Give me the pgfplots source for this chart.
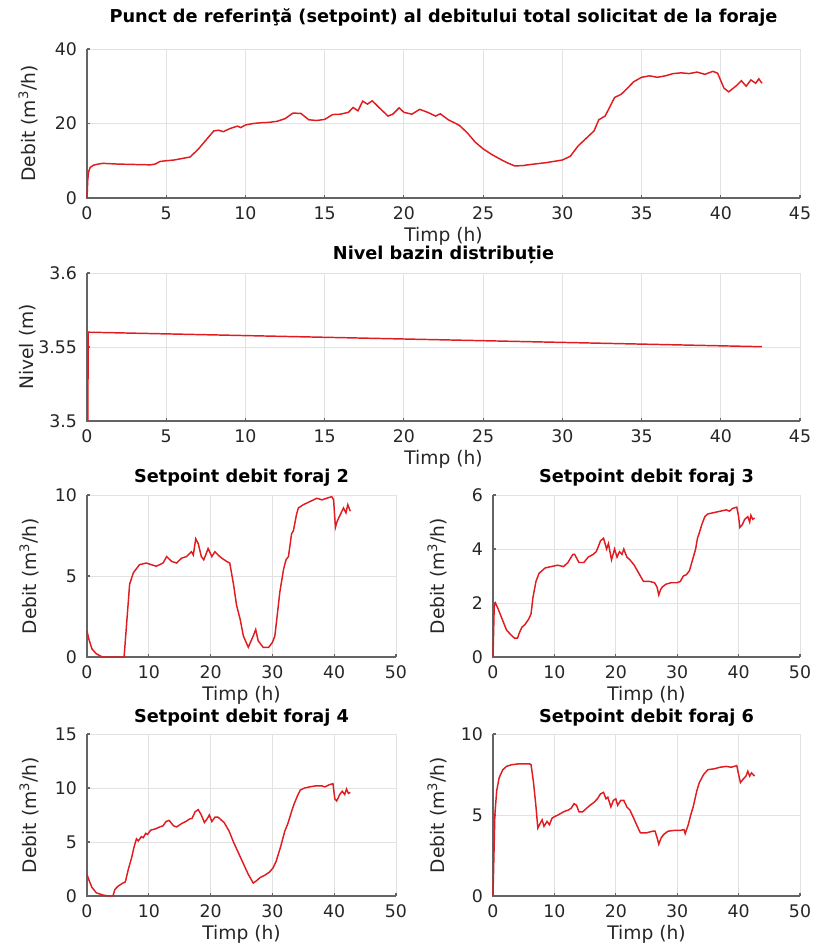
\documentclass[border=0pt]{standalone}
\usepackage{fontspec}
\setmainfont{DejaVu Sans}
\usepackage{pgfplots}
\pgfplotsset{compat=1.18}
\definecolor{lc}{RGB}{225,28,32}
\definecolor{gc}{RGB}{226,226,226}
\definecolor{ac}{RGB}{100,100,100}
\pgfplotsset{
 base/.style={
  scale only axis, anchor=south west,
  axis x line*=bottom, axis y line*=left,
  xtick pos=bottom, ytick pos=left,
  axis line style={-, ac, line width=1.6pt},
  grid=major, major grid style={gc, line width=0.7pt},
  tick style={ac, line width=0.8pt}, tick align=inside, major tick length=2.5pt,
  enlargelimits=false, clip=false,
  /pgf/number format/assume math mode=true,
  scaled y ticks=false,
  ticklabel style={font=\fontsize{13}{14}\selectfont, text=black!85},
  xticklabel style={anchor=center, yshift=-11.25pt},
  yticklabel style={anchor=east, xshift=-4pt},
  every axis x label/.style={at={(axis description cs:0.5,0)}, anchor=center, yshift=-28.5pt,
     font=\fontsize{14}{15}\selectfont, text=black!85},
  every axis y label/.style={rotate=90, anchor=center, font=\fontsize{14}{15}\selectfont, text=black!85},
  every axis title/.style={at={(axis description cs:0.5,1)}, anchor=center,
     font=\bfseries\fontsize{13.3}{15}\selectfont},
  cycle list={{lc, mark=none}},
  every axis plot/.append style={line width=1.1pt},
  xlabel={Timp (h)},
 },
 wide/.style={base, width=534.75pt, xmin=0, xmax=45, xtick={0,5,...,45},
  ylabel style={at={(axis description cs:-0.0827,0.5)}}},
 smallL/.style={base, width=231.75pt, height=121.5pt, xmin=0, xmax=50, xtick={0,10,...,50},
  ylabel={Debit (m\textsuperscript{3}/h)},
  ylabel style={at={(axis description cs:-0.1877,0.5)}}},
 smallR/.style={base, width=230.25pt, height=121.5pt, xmin=0, xmax=50, xtick={0,10,...,50},
  ylabel={Debit (m\textsuperscript{3}/h)},
  ylabel style={at={(axis description cs:-0.1824,0.5)}}},
}
\begin{document}
\begin{tikzpicture}
\useasboundingbox (0,0) rectangle (611.25pt,-708pt);
% Plot 1
\begin{axis}[wide, at={(65.25pt,-148.5pt)}, height=111.75pt, ymin=0, ymax=40, ytick={0,20,40},
  ylabel={Debit (m\textsuperscript{3}/h)},
  title={Punct de referinţă (setpoint) al debitului total solicitat de la foraje},
  title style={yshift=23.25pt}]
\draw[ac, line width=1.6pt] (rel axis cs:0,1) -- (rel axis cs:0,0) -- (rel axis cs:1,0);
\addplot coordinates {
(0,0) (0.05,5) (0.1,7) (0.2,8.2) (0.4,8.8) (0.7,9.1) (1.0,9.3) (1.5,9.2) (2,9.1) (3,9.0) (4,8.9)
(4.3,9.1) (4.6,9.8) (5,10.0) (5.5,10.2) (6,10.6) (6.5,11.0) (7,13.0) (7.5,15.5) (8,18.0) (8.3,18.2)
(8.6,17.8) (9,18.6) (9.5,19.3) (9.7,18.9) (10,19.6) (10.5,20.0) (11,20.2) (11.5,20.3) (12,20.6)
(12.5,21.3) (13,22.8) (13.5,22.7) (14,21.0) (14.5,20.8) (15,21.1) (15.5,22.4) (16,22.5) (16.5,23.0)
(16.8,24.3) (17.1,23.4) (17.4,26.0) (17.7,25.2) (18,26.1) (18.5,24.0) (19,22.0) (19.3,22.5) (19.7,24.2)
(20,23.0) (20.5,22.5) (21,23.8) (21.5,23.0) (22,22.0) (22.3,22.6) (22.8,21.0) (23.5,19.5) (24,17.5)
(24.5,15.0) (25,13.2) (25.5,11.8) (26,10.6) (26.5,9.5) (27,8.6) (27.5,8.7) (28,9.0) (29,9.5) (30,10.2)
(30.5,11.2) (31,14.0) (31.5,16.0) (32,18.0) (32.3,21.0) (32.7,22.0) (33,24.5) (33.3,27.0) (33.7,27.8)
(34,29.0) (34.5,31.2) (35,32.4) (35.5,32.8) (36,32.4) (36.5,32.8) (37,33.4) (37.5,33.6) (38,33.4)
(38.5,33.8) (39,33.2) (39.5,34.0) (39.8,33.5) (40.2,29.5) (40.5,28.5) (41,30.2) (41.3,31.5) (41.6,30.0)
(41.9,31.7) (42.2,30.8) (42.4,32.0) (42.6,30.8)
};
\end{axis}
% Plot 2
\begin{axis}[wide, at={(65.25pt,-315.75pt)}, height=111pt, ymin=3.5, ymax=3.6, ytick={3.5,3.55,3.6},
  yticklabel style={/pgf/number format/precision=2},
  ylabel={Nivel (m)},
  title={Nivel bazin distribuție},
  title style={yshift=13.5pt}]
\draw[ac, line width=1.6pt] (rel axis cs:0,1) -- (rel axis cs:0,0) -- (rel axis cs:1,0);
\addplot coordinates {(0.05,3.5) (0.08,3.5600) (42.6,3.5502)};
\end{axis}
% Plot 3
\begin{axis}[smallL, at={(65.25pt,-492.75pt)}, ymin=0, ymax=10, ytick={0,5,10},
  title={Setpoint debit foraj 2}, title style={yshift=12.75pt}]
\draw[ac, line width=1.6pt] (rel axis cs:0,1) -- (rel axis cs:0,0) -- (rel axis cs:1,0);
\addplot coordinates {
(0,1.6) (0.3,1.1) (0.8,0.5) (1.5,0.2) (2.5,0) (6,0) (6.4,2.0) (6.9,4.5) (7.5,5.2) (8.5,5.7) (9.6,5.8)
(11.2,5.6) (12.3,5.8) (12.9,6.2) (13.7,5.9) (14.5,5.8) (15.3,6.1) (16.1,6.2) (16.9,6.5) (17.2,6.3)
(17.6,7.3) (18,7.0) (18.5,6.2) (18.9,6.0) (19.6,6.7) (20.2,6.2) (20.7,6.5) (21.2,6.3) (21.8,6.1)
(22.6,5.9) (23.1,5.8) (23.7,4.5) (24.2,3.2) (24.8,2.3) (25.3,1.3) (26.1,0.6) (26.9,1.3) (27.3,1.7)
(27.7,1.0) (28.5,0.6) (29.4,0.6) (30,0.9) (30.4,1.3) (30.7,2.3) (31.2,4.0) (31.8,5.4) (32.2,6.0)
(32.6,6.2) (33.1,7.6) (33.4,7.8) (33.9,8.8) (34.2,9.2) (35,9.4) (36.1,9.6) (37.2,9.8) (38,9.7)
(38.8,9.8) (39.6,9.9) (39.9,9.7) (40.2,8.0) (40.5,8.4) (41,8.8) (41.5,9.2) (41.9,8.9) (42.2,9.4) (42.6,9.0)
};
\end{axis}
% Plot 4
\begin{axis}[smallR, at={(369.75pt,-492.75pt)}, ymin=0, ymax=6, ytick={0,2,4,6},
  title={Setpoint debit foraj 3}, title style={yshift=12.75pt}]
\draw[ac, line width=1.6pt] (rel axis cs:0,1) -- (rel axis cs:0,0) -- (rel axis cs:1,0);
\addplot coordinates {
(0,0) (0.2,1.9) (0.4,2.0) (0.8,1.8) (1.5,1.4) (2.2,1.0) (3,0.8) (3.5,0.7) (4,0.7) (4.3,0.9) (4.7,1.1)
(5.2,1.2) (5.8,1.4) (6.2,1.6) (6.5,2.2) (7,2.8) (7.5,3.1) (8.5,3.3) (9.5,3.35) (10.5,3.4) (11.5,3.35)
(12.2,3.5) (13,3.8) (13.3,3.8) (14,3.5) (14.8,3.5) (15.5,3.7) (16.3,3.8) (16.8,3.9) (17,4.0) (17.5,4.3)
(18,4.4) (18.5,4.0) (18.8,4.2) (19.3,3.6) (19.8,4.0) (20.2,3.7) (20.6,3.9) (21,3.8) (21.3,4.0) (21.8,3.7)
(22.3,3.6) (23,3.4) (23.5,3.2) (24,3.0) (24.5,2.8) (25.5,2.8) (26.3,2.75) (26.7,2.6) (27,2.3) (27.3,2.5)
(27.6,2.6) (28.2,2.7) (29,2.75) (30,2.75) (30.5,2.8) (31,3.0) (31.5,3.05) (32,3.2) (32.5,3.6) (33,4.0)
(33.3,4.4) (33.6,4.6) (34,4.9) (34.5,5.2) (35,5.3) (36,5.35) (37,5.4) (38,5.45) (38.5,5.4) (39,5.5)
(39.7,5.55) (40,5.2) (40.2,4.8) (40.6,4.9) (41,5.1) (41.5,5.2) (41.8,5.0) (42,5.25) (42.3,5.1) (42.6,5.15)
};
\end{axis}
% Plot 5
\begin{axis}[smallL, at={(65.25pt,-672pt)}, ymin=0, ymax=15, ytick={0,5,10,15},
  title={Setpoint debit foraj 4}, title style={yshift=12pt}]
\draw[ac, line width=1.6pt] (rel axis cs:0,1) -- (rel axis cs:0,0) -- (rel axis cs:1,0);
\addplot coordinates {
(0,2.0) (0.3,1.5) (0.8,0.8) (1.5,0.3) (2.5,0.1) (3.5,0) (4.2,0) (4.5,0.6) (5,0.9) (5.8,1.2) (6.2,1.3)
(6.7,2.5) (7.2,3.5) (7.6,4.5) (8,5.3) (8.3,5.1) (8.8,5.5) (9.1,5.4) (9.5,5.8) (9.8,5.7) (10.3,6.1)
(11,6.2) (11.8,6.4) (12.3,6.5) (12.8,6.9) (13.3,7.0) (14,6.5) (14.5,6.4) (15.3,6.7) (16,6.9) (16.5,7.1)
(17,7.2) (17.5,7.8) (18,8.0) (18.5,7.5) (19,6.8) (19.5,7.2) (19.8,7.5) (20.2,6.9) (20.7,7.3) (21.2,7.3)
(21.8,7.0) (22.2,6.8) (23,6.0) (23.7,5.0) (24.5,4.0) (25.3,3.0) (26.1,2.0) (26.9,1.2) (27.4,1.4)
(28,1.7) (28.7,1.9) (29.5,2.2) (30.1,2.6) (30.6,3.2) (31.3,4.5) (32,6.0) (32.5,6.7) (33.2,8.0) (33.5,8.5)
(34,9.2) (34.5,9.8) (35.2,10.0) (36,10.1) (37,10.2) (38,10.2) (38.5,10.1) (39.2,10.3) (39.8,10.4)
(40.1,9.0) (40.4,8.8) (40.9,9.4) (41.3,9.7) (41.7,9.4) (42,9.9) (42.3,9.5) (42.6,9.6)
};
\end{axis}
% Plot 6
\begin{axis}[smallR, at={(369.75pt,-672pt)}, ymin=0, ymax=10, ytick={0,5,10},
  title={Setpoint debit foraj 6}, title style={yshift=12pt}]
\draw[ac, line width=1.6pt] (rel axis cs:0,1) -- (rel axis cs:0,0) -- (rel axis cs:1,0);
\addplot coordinates {
(0,0) (0.3,5.0) (0.6,6.5) (1.0,7.3) (1.6,7.8) (2.2,8.0) (3,8.1) (4,8.15) (6,8.15) (6.2,8.1) (6.6,7.0)
(7,5.5) (7.3,4.2) (7.7,4.5) (8.0,4.7) (8.3,4.3) (8.8,4.6) (9.2,4.4) (9.6,4.8) (10,4.9) (10.6,5.0)
(11.5,5.2) (12.2,5.3) (12.7,5.4) (13.2,5.7) (13.6,5.6) (14,5.2) (14.6,5.2) (15.2,5.4) (15.8,5.6)
(16.5,5.8) (17,6.0) (17.5,6.3) (18,6.4) (18.4,6.0) (18.7,6.1) (19.2,5.5) (19.6,5.9) (20,6.0) (20.3,5.6)
(20.8,5.9) (21.3,5.9) (21.8,5.5) (22.3,5.3) (22.8,4.9) (23.5,4.3) (24,3.9) (25,3.9) (26,4.0) (26.4,4.0)
(26.8,3.5) (27,3.2) (27.4,3.6) (27.8,3.8) (28.5,4.0) (29.5,4.05) (30.5,4.05) (31.1,4.1) (31.3,3.85)
(31.8,4.4) (32.2,5.0) (32.6,5.5) (33.2,6.5) (33.6,7.0) (34.3,7.5) (35,7.8) (36,7.85) (37,7.95) (38,8.0)
(38.8,7.95) (39.7,8.05) (40,7.5) (40.3,7.0) (40.7,7.2) (41.2,7.4) (41.5,7.7) (41.8,7.4) (42.1,7.6) (42.6,7.4)
};
\end{axis}
\end{tikzpicture}
\end{document}
